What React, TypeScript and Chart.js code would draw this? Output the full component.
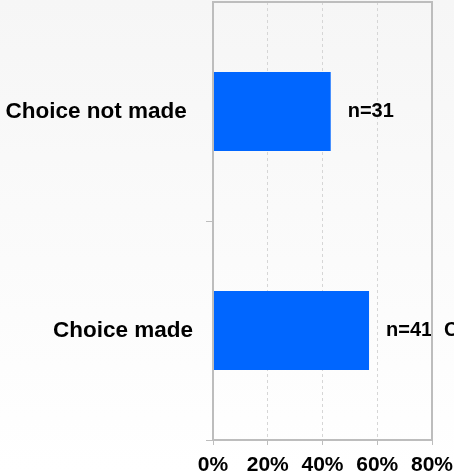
import React, { useEffect, useRef } from "react";
import { Chart, registerables } from "chart.js";

Chart.register(...registerables);

const categories = ["Choice not made", "Choice made"];
const percentValues = [43, 57];
const countLabels = ["n=31", "n=41"];
const extraLabels = ["", "Choice made"];
const xTicks = [0, 20, 40, 60, 80];

const FONT = "'Liberation Sans', Arial, sans-serif";

export default function App() {
  const ref = useRef<HTMLCanvasElement | null>(null);

  useEffect(() => {
    if (!ref.current) return;
    const labelPlugin = {
      id: "barLabels",
      afterDatasetsDraw(chart: any) {
        const { ctx } = chart;
        const meta = chart.getDatasetMeta(0);
        ctx.save();
        ctx.fillStyle = "#000";
        ctx.font = `bold 20px ${FONT}`;
        ctx.textAlign = "left";
        ctx.textBaseline = "middle";
        meta.data.forEach((bar: any, i: number) => {
          ctx.fillText(countLabels[i], bar.x + 17, bar.y);
          if (extraLabels[i]) {
            ctx.fillText(extraLabels[i], chart.chartArea.right + 12, bar.y);
          }
        });
        ctx.restore();
      },
      afterDraw(chart: any) {
        const { ctx, chartArea } = chart;
        ctx.save();
        ctx.strokeStyle = "#bdbdbd";
        ctx.lineWidth = 2;
        ctx.strokeRect(chartArea.left, chartArea.top, chartArea.right - chartArea.left, chartArea.bottom - chartArea.top);
        ctx.restore();
      },
    };

    const chart = new Chart(ref.current, {
      type: "bar",
      data: {
        labels: categories,
        datasets: [
          {
            data: percentValues,
            backgroundColor: "#0066ff",
            borderWidth: 0,
            categoryPercentage: 0.36,
            barPercentage: 1,
          },
        ],
      },
      options: {
        indexAxis: "y",
        animation: false,
        responsive: true,
        maintainAspectRatio: false,
        layout: { padding: { top: 2, right: 22, left: 0, bottom: 0 } },
        plugins: { legend: { display: false }, tooltip: { enabled: false } },
        scales: {
          x: {
            min: xTicks[0],
            max: xTicks[xTicks.length - 1],
            afterBuildTicks(scale: any) {
              scale.ticks = xTicks.map((v) => ({ value: v }));
            },
            afterFit(scale: any) {
              scale.height = 31;
              scale.paddingLeft = 0;
              scale.paddingRight = 0;
            },
            ticks: {
              callback: (v: any) => v + "%",
              color: "#000",
              font: { family: FONT, size: 21, weight: "bold" },
              padding: 8,
              maxRotation: 0,
              autoSkip: false,
            },
            grid: {
              color: "#d6d6d6",
              tickColor: "#bdbdbd",
              tickLength: 5,
            },
            border: { display: true, color: "#bdbdbd", width: 2, dash: [3, 3] },
          },
          y: {
            afterFit(scale: any) {
              scale.width = 213;
              scale.paddingTop = 0;
              scale.paddingBottom = 0;
            },
            ticks: {
              color: "#000",
              font: { family: FONT, size: 22.5, weight: "bold" },
              padding: 13,
              callback: (_v: any, i: number) => categories[i] + (i === 0 ? " " : ""),
            },
            grid: {
              offset: true,
              drawOnChartArea: false,
              tickColor: (c: any) => (c.index === 0 ? "rgba(0,0,0,0)" : "#bdbdbd"),
              tickLength: 7,
            },
            border: { display: true, color: "#bdbdbd", width: 2 },
          },
        },
      },
      plugins: [labelPlugin],
    });
    return () => chart.destroy();
  }, []);

  return (
    <div
      style={{
        position: "fixed",
        left: 0,
        top: 0,
        width: 454,
        height: 471,
        background: "linear-gradient(#f6f6f6, #ffffff)",
      }}
    >
      <canvas ref={ref} />
    </div>
  );
}
